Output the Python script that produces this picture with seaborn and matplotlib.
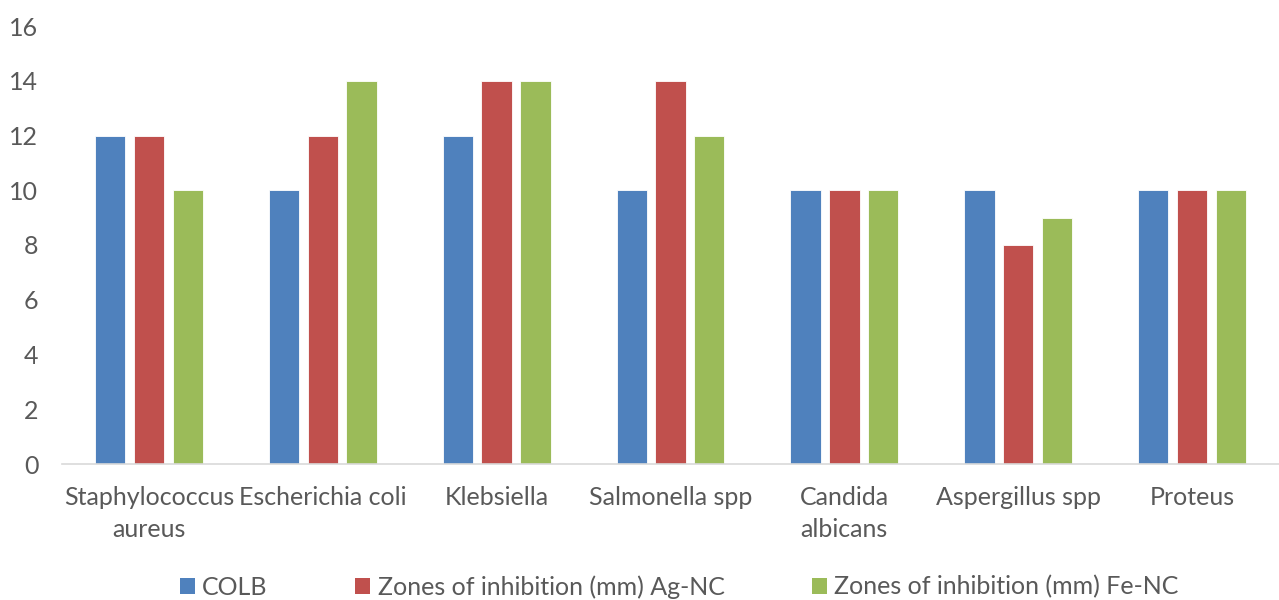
import matplotlib
matplotlib.use("Agg")
import matplotlib.pyplot as plt
import seaborn as sns
import pandas as pd
from matplotlib.patches import Patch

categories = ["Staphylococcus\naureus", "Escherichia coli", "Klebsiella", "Salmonella spp",
              "Candida\nalbicans", "Aspergillus spp", "Proteus"]
series_names = ["COLB", "Zones of inhibition (mm) Ag-NC", "Zones of inhibition (mm) Fe-NC"]
colb = [12, 10, 12, 10, 10, 10, 10]
ag_nc = [12, 12, 14, 14, 10, 8, 10]
fe_nc = [10, 14, 14, 12, 10, 9, 10]
colors = ["#4F81BD", "#C0504D", "#9BBB59"]

rows = []
for name, vals in zip(series_names, [colb, ag_nc, fe_nc]):
    for c, v in zip(categories, vals):
        rows.append({"category": c, "series": name, "value": v})
df = pd.DataFrame(rows)

sns.set_theme(style="white")
plt.rcParams["font.family"] = ["Lato", "DejaVu Sans"]
text_color = "#595959"
fs = 18

fig = plt.figure(figsize=(12.79, 6.0), dpi=100)
ax = fig.add_axes([62/1279, 1 - 464/600, 1 - 62/1279, (464 - 26)/600])

sns.barplot(data=df, x="category", y="value", hue="series", order=categories,
            hue_order=series_names, palette=colors, width=0.67, gap=0.22,
            saturation=1, ax=ax, legend=False, edgecolor="white", linewidth=0.6)

ax.set_ylim(0, 16)
ax.set_yticks(range(0, 17, 2))
ax.set_xlim(-0.5, len(categories) - 0.5)
ax.set_xlabel("")
ax.set_ylabel("")
for s in ["top", "right", "left"]:
    ax.spines[s].set_visible(False)
ax.spines["bottom"].set_color("#D9D9D9")
ax.spines["bottom"].set_linewidth(1.2)
ax.tick_params(axis="both", length=0, labelsize=fs, colors=text_color)
ax.tick_params(axis="x", pad=16)
ax.tick_params(axis="y", pad=17)
ax.grid(False)
for lbl in ax.get_xticklabels():
    lbl.set_multialignment("center")
    lbl.set_linespacing(1.45)

handles = [Patch(facecolor=c, edgecolor="none") for c in colors]
leg = fig.legend(handles, series_names, loc="center", bbox_to_anchor=(0.531, 0.022),
                 ncol=3, frameon=False, fontsize=fs, handlelength=0.6, handleheight=0.6,
                 handletextpad=0.3, columnspacing=3.5)
for t in leg.get_texts():
    t.set_color(text_color)

fig.savefig("out.png", dpi=100)
